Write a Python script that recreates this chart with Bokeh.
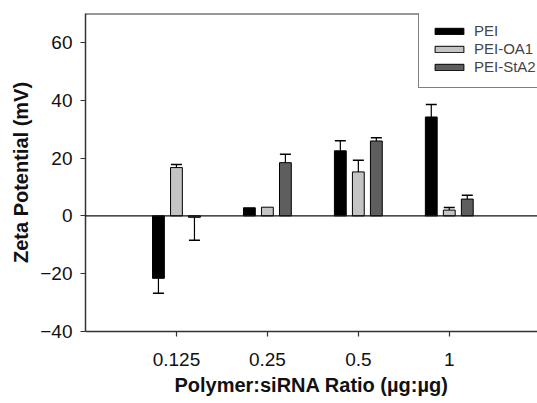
from bokeh.plotting import figure
from bokeh.models import FixedTicker, Span, Legend, LegendItem
from bokeh.embed import file_html
from bokeh.resources import INLINE

categories = ["0.125", "0.25", "0.5", "1"]
series = ["PEI", "PEI-OA1", "PEI-StA2"]
pei = [-21.6, 2.8, 22.5, 34.2]
pei_err = [5.2, 0.0, 3.5, 4.3]
oa1 = [16.7, 3.0, 15.2, 2.0]
oa1_err = [1.1, 0.0, 4.0, 0.9]
sta2 = [-0.5, 18.4, 25.9, 5.8]
sta2_err = [7.9, 2.9, 1.1, 1.3]
colors = ["#000000", "#c4c4c4", "#5e5e5e"]
y_ticks = [-40, -20, 0, 20, 40, 60]

FONT = "Liberation Sans"

p = figure(width=537, height=398, x_range=(0, 4.97), y_range=(-40, 70),
           output_backend="svg", toolbar_location=None,
           min_border_left=85, min_border_right=0, min_border_top=13, min_border_bottom=67)
p.outline_line_color = None
p.xgrid.visible = False
p.ygrid.visible = False
p.background_fill_color = "white"

xpos = [i + 1 for i in range(len(categories))]
offsets = [-0.198, 0.0, 0.198]
width = 0.13
items = []
for vals, errs, off, col, name in zip([pei, oa1, sta2], [pei_err, oa1_err, sta2_err], offsets, colors, series):
    xs = [x + off for x in xpos]
    r = p.vbar(x=xs, top=vals, bottom=0, width=width, fill_color=col, line_color="black", line_width=1)
    items.append(LegendItem(label=name, renderers=[r]))
    ex = [x for x, e in zip(xs, errs) if e > 0]
    ev = [v for v, e in zip(vals, errs) if e > 0]
    et = [v + (e if v >= 0 else -e) for v, e in zip(vals, errs) if e > 0]
    p.segment(x0=ex, y0=ev, x1=ex, y1=et, line_color="black", line_width=1.2)
    p.scatter(x=ex, y=et, marker="dash", size=11, line_color="black", line_width=1.5)

p.add_layout(Span(location=0, dimension="width", line_color="#111111", line_width=1.2))
p.add_layout(Span(location=70, dimension="width", line_color="#333333", line_width=2))

p.xaxis.ticker = FixedTicker(ticks=xpos)
p.xaxis.major_label_overrides = {x: c for x, c in zip(xpos, categories)}
p.yaxis.ticker = FixedTicker(ticks=y_ticks)
for ax in (p.xaxis, p.yaxis):
    ax.axis_line_color = "#333333"
    ax.axis_line_width = 1.5
    ax.major_tick_line_color = "#333333"
    ax.major_tick_line_width = 1.2
    ax.major_tick_out = 5
    ax.major_tick_in = 0
    ax.minor_tick_line_color = None
    ax.major_label_text_font = FONT
    ax.major_label_text_font_size = "19px"
    ax.major_label_text_color = "#111111"
    ax.axis_label_text_font = FONT
    ax.axis_label_text_font_size = "20px"
    ax.axis_label_text_font_style = "bold"
    ax.axis_label_text_color = "#111111"
p.xaxis.major_label_standoff = 16
p.yaxis.major_label_standoff = 8
p.xaxis.axis_label = "Polymer:siRNA Ratio (\u00b5g:\u00b5g)"
p.yaxis.axis_label = "Zeta Potential (mV)"
p.xaxis.axis_label_standoff = 5
p.yaxis.axis_label_standoff = 5

legend = Legend(items=items, location=(333, 243), orientation="vertical",
                glyph_width=36, glyph_height=8, label_height=17, spacing=1,
                padding=12, margin=0, label_standoff=7,
                label_text_font=FONT, label_text_font_size="15px",
                border_line_color="black", border_line_width=1,
                background_fill_color="white", background_fill_alpha=1)
p.add_layout(legend)

open("out.html", "w").write(file_html(p, INLINE))
